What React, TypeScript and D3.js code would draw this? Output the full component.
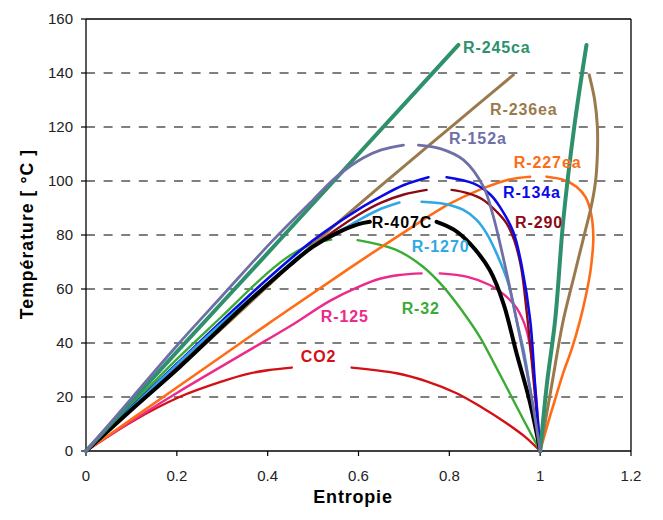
import React from "react";
import * as d3 from "d3";

// ---------- data ----------
const xTicks = [0, 0.2, 0.4, 0.6, 0.8, 1, 1.2];
const yTicks = [0, 20, 40, 60, 80, 100, 120, 140, 160];
const gridLevels = [20, 40, 60, 80, 100, 120, 140];

type P = [number, number];

const co2Liquid: P[] = [[0, 0], [0.1, 10.8], [0.207, 20.1], [0.3, 25.8], [0.354, 28.5], [0.4, 29.9], [0.453, 30.9]];
const co2Vapor: P[] = [[0.585, 30.9], [0.684, 28.8], [0.75, 25.8], [0.816, 21.4], [0.87, 16.3], [0.926, 10.3], [0.965, 5.5], [1, 0]];

const r125Liquid: P[] = [[0, 0], [0.1, 11], [0.2, 21.5], [0.354, 36.8], [0.45, 46.3], [0.537, 55.6], [0.6, 60.8], [0.647, 63.8], [0.69, 65.2], [0.739, 65.8]];
const r125Vapor: P[] = [[0.779, 65.8], [0.84, 64.5], [0.889, 61.5], [0.92, 58], [0.948, 53], [0.97, 44.8], [0.985, 30], [0.995, 12], [1, 0]];

const r32Liquid: P[] = [[0, 0], [0.1, 17], [0.2, 34], [0.3, 50], [0.4, 66], [0.45, 72.5], [0.5, 76.8], [0.54, 78.3]];
const r32Vapor: P[] = [[0.598, 78.1], [0.684, 74.4], [0.74, 68.5], [0.787, 60.8], [0.83, 51.5], [0.867, 42.3], [0.9, 32], [0.933, 21.4], [0.965, 11], [1, 0]];

const r227eaLiquid: P[] = [[0, 0], [0.2, 23.5], [0.4, 47], [0.574, 67], [0.7, 81], [0.8, 91.5], [0.87, 97], [0.93, 100.5], [0.978, 101.6]];
const r227eaVapor: P[] = [[1.014, 101.6], [1.05, 100.5], [1.08, 97.9], [1.1, 94], [1.112, 88], [1.117, 79.4], [1.111, 67], [1.1, 57], [1.088, 48.5], [1.07, 38], [1.051, 29], [1.03, 17.5], [1.014, 8.5], [1, 0]];

const r236eaLiquid: P[] = [[0, 0], [0.1, 15], [0.3, 45.5], [0.5, 76.5], [0.647, 97.9], [0.757, 113.5], [0.85, 126.5], [0.941, 139.3]];
const r236eaVapor: P[] = [[1, 0], [1.025, 24], [1.051, 48.5], [1.075, 65], [1.1, 82], [1.113, 91], [1.122, 100], [1.126, 110], [1.126, 120], [1.12, 130], [1.108, 139.3]];

const r290Liquid: P[] = [[0, 0], [0.1, 15.8], [0.2, 31.5], [0.3, 47], [0.4, 62], [0.5, 75.8], [0.6, 87.5], [0.65, 92], [0.7, 95], [0.75, 96.7]];
const r290Vapor: P[] = [[0.805, 96.7], [0.84, 95.5], [0.875, 93], [0.905, 88.5], [0.926, 84.3], [0.943, 78], [0.958, 68], [0.97, 52], [0.98, 36], [0.99, 18], [1, 0]];

const r134aLiquid: P[] = [[0, 0], [0.1, 16.2], [0.2, 32.3], [0.3, 48.3], [0.4, 63.8], [0.5, 78], [0.6, 89.5], [0.65, 94.3], [0.7, 98.5], [0.754, 101.4]];
const r134aVapor: P[] = [[0.794, 101.4], [0.853, 99.1], [0.89, 95], [0.911, 90.5], [0.941, 81], [0.96, 68], [0.978, 48.5], [0.989, 23.8], [1, 0]];

const r1270Liquid: P[] = [[0, 0], [0.1, 16], [0.2, 32], [0.3, 47.5], [0.4, 62], [0.47, 72.3], [0.5, 75.8], [0.58, 83.5], [0.64, 89], [0.69, 92]];
const r1270Vapor: P[] = [[0.739, 92.3], [0.79, 91.5], [0.831, 89.3], [0.86, 85.6], [0.882, 80.6], [0.904, 73.2], [0.93, 62], [0.948, 48.5], [0.965, 36], [0.977, 23.8], [1, 0]];

const r407cLiquid: P[] = [[0, 0], [0.1, 15.3], [0.207, 31.2], [0.354, 54.7], [0.45, 69], [0.5, 75.7], [0.55, 80.5], [0.6, 84], [0.625, 84.9]];
const r407cVapor: P[] = [[0.772, 84.9], [0.81, 82], [0.845, 76.9], [0.889, 67], [0.919, 54.7], [0.948, 36.2], [0.978, 17.7], [1, 0]];

const r245caLiquid: P[] = [[0, 0], [0.2, 36.7], [0.4, 73.3], [0.6, 110], [0.82, 150.4]];
const r245caVapor: P[] = [[1, 0], [1.015, 25], [1.033, 48.5], [1.051, 85.6], [1.075, 120], [1.102, 150.4]];

const r152aLiquid: P[] = [[0, 0], [0.1, 19.5], [0.2, 39], [0.3, 57.5], [0.412, 78.1], [0.5, 93], [0.552, 101.6], [0.61, 108.5], [0.65, 111.5], [0.699, 113.3]];
const r152aVapor: P[] = [[0.732, 113.3], [0.78, 112], [0.831, 107.8], [0.875, 97.9], [0.895, 88], [0.91, 78], [0.93, 63], [0.948, 48.5], [0.977, 23.8], [1, 0]];

const seriesNames = ["CO2", "R-125", "R-32", "R-227ea", "R-236ea", "R-290", "R-134a", "R-1270", "R-407C", "R-245ca", "R-152a"];
const liquidBranches = [co2Liquid, r125Liquid, r32Liquid, r227eaLiquid, r236eaLiquid, r290Liquid, r134aLiquid, r1270Liquid, r407cLiquid, r245caLiquid, r152aLiquid];
const vaporBranches = [co2Vapor, r125Vapor, r32Vapor, r227eaVapor, r236eaVapor, r290Vapor, r134aVapor, r1270Vapor, r407cVapor, r245caVapor, r152aVapor];

// label anchors in data units (left, baseline)
const labelX = [0.473, 0.517, 0.695, 0.942, 0.8895, 0.9446, 0.918, 0.717, 0.629, 0.83, 0.799];
const labelY = [33.1, 47.7, 50.6, 104.9, 124.4, 82.7, 93.6, 73.6, 82.6, 147.5, 113.7];

// ---------- styles ----------
const colors: Record<string, string> = {
  "CO2": "#d21016",
  "R-125": "#ec2a8b",
  "R-32": "#3aab35",
  "R-227ea": "#ff6c17",
  "R-236ea": "#9a7a4c",
  "R-290": "#8c0a18",
  "R-134a": "#0a0ae6",
  "R-1270": "#31a8e3",
  "R-407C": "#000000",
  "R-245ca": "#2e916c",
  "R-152a": "#6f6fa8",
};
const widths: Record<string, number> = {
  "CO2": 2.4, "R-125": 2.4, "R-32": 2.4, "R-227ea": 2.6, "R-236ea": 3, "R-290": 2.4,
  "R-134a": 2.6, "R-1270": 2.6, "R-407C": 4, "R-245ca": 4, "R-152a": 2.8,
};

const W = 663, H = 520;
const left = 86, right = 631, top = 19, bottom = 451;
const font = "'Liberation Sans', Arial, sans-serif";

export default function App() {
  const x = d3.scaleLinear().domain([0, 1.2]).range([left, right]);
  const y = d3.scaleLinear().domain([0, 160]).range([bottom, top]);
  const line = d3.line<P>().x(d => x(d[0])).y(d => y(d[1])).curve(d3.curveCatmullRom.alpha(0.5));

  return (
    <svg width={W} height={H} style={{ position: "absolute", left: 0, top: 0, background: "#fff" }} fontFamily={font}>
      <rect x={0} y={0} width={W} height={H} fill="#fff" />
      {/* grid */}
      {gridLevels.map(v => (
        <line key={v} x1={left} x2={right} y1={y(v)} y2={y(v)} stroke="#000" strokeWidth={1.2} strokeDasharray="9,8.6" />
      ))}
      {/* frame */}
      <line x1={left} x2={right} y1={top} y2={top} stroke="#000" strokeWidth={1.3} />
      <line x1={right} x2={right} y1={top} y2={bottom} stroke="#000" strokeWidth={1.3} />
      <line x1={left} x2={left} y1={top} y2={bottom} stroke="#000" strokeWidth={1.3} />
      <line x1={left} x2={right} y1={bottom} y2={bottom} stroke="#000" strokeWidth={1.3} />
      {/* y ticks */}
      {yTicks.map(v => (
        <g key={v}>
          <line x1={left - 5} x2={left} y1={y(v)} y2={y(v)} stroke="#000" strokeWidth={1.2} />
          <text x={73} y={y(v) + 5.2} textAnchor="end" fontSize={15} fill="#222">{String(v)}</text>
        </g>
      ))}
      {/* x ticks */}
      {xTicks.map(v => (
        <g key={v}>
          <line x1={x(v)} x2={x(v)} y1={bottom} y2={bottom + 5} stroke="#000" strokeWidth={1.2} />
          <text x={x(v)} y={480.5} textAnchor="middle" fontSize={15} fill="#222">{String(v)}</text>
        </g>
      ))}
      {/* curves */}
      {seriesNames.map((name, i) => (
        <g key={name} fill="none" stroke={colors[name]} strokeWidth={widths[name]} strokeLinecap="round" strokeLinejoin="round">
          <path d={line(liquidBranches[i]) || ""} />
          <path d={line(vaporBranches[i]) || ""} />
        </g>
      ))}
      {/* labels */}
      {seriesNames.map((name, i) => (
        <text key={name} x={x(labelX[i])} y={y(labelY[i])} fontSize={16} fontWeight="bold" letterSpacing={0.9} fill={colors[name]}>{name}</text>
      ))}
      {/* axis titles */}
      <text x={353} y={503} textAnchor="middle" fontSize={18} fontWeight="bold" letterSpacing={0.8} fill="#000">Entropie</text>
      <text transform="translate(33,234) rotate(-90)" textAnchor="middle" fontSize={17.5} fontWeight="bold" letterSpacing={1.1} fill="#000">Température [ °C ]</text>
    </svg>
  );
}
